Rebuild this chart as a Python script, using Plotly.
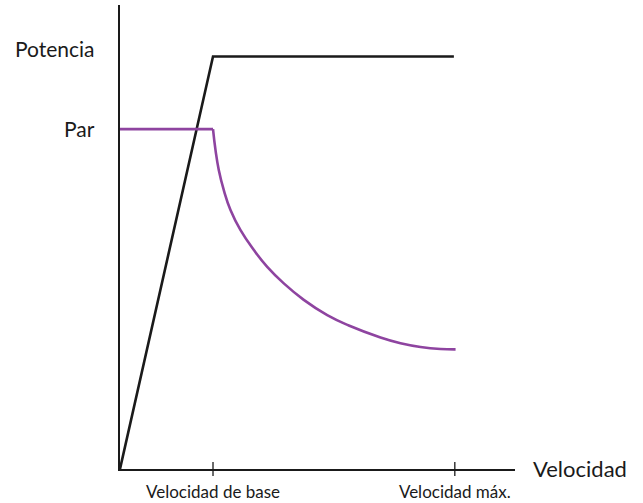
import plotly.graph_objects as go

# Speed in units of base speed; values in units of rated power
power_speed = [0.0, 1.0, 3.59]
power_value = [0.0, 1.0, 1.0]

torque_speed = [0.0, 1.0, 1.027, 1.062, 1.116, 1.188, 1.296, 1.439, 1.583, 1.761,
                1.976, 2.228, 2.460, 2.801, 3.016, 3.231, 3.446, 3.608]
torque_value = [0.824, 0.824, 0.773, 0.725, 0.676, 0.628, 0.579, 0.531, 0.490, 0.450,
                0.410, 0.373, 0.348, 0.319, 0.305, 0.296, 0.291, 0.290]

tick_vals = [1.0, 3.600]
tick_text = ["Velocidad de base", "Velocidad máx."]
y_labels = ["Potencia", "Par"]
y_label_vals = [1.0, 0.824]
x_title = "Velocidad"

FONT = "Lato"
INK = "#1a1a1a"
PURPLE = "#8e44a0"

fig = go.Figure()
fig.add_trace(go.Scatter(x=power_speed, y=power_value, mode="lines",
                         line=dict(color=INK, width=2.6), hoverinfo="skip"))
# constant-torque region (straight) and field-weakening region (smooth curve)
fig.add_trace(go.Scatter(x=torque_speed[:2], y=torque_value[:2], mode="lines",
                         line=dict(color=PURPLE, width=2.6), hoverinfo="skip"))
fig.add_trace(go.Scatter(x=torque_speed[1:], y=torque_value[1:], mode="lines",
                         line=dict(color=PURPLE, width=2.6, shape="spline", smoothing=1.3),
                         hoverinfo="skip"))

shapes = []
for v in tick_vals:
    shapes.append(dict(type="line", xref="x", yref="paper", x0=v, x1=v,
                       ysizemode="pixel", yanchor=0, y0=-7, y1=7,
                       line=dict(color=INK, width=1.3)))

annotations = []
offsets = [8, 1]
for lab, v, off in zip(y_labels, y_label_vals, offsets):
    annotations.append(dict(x=0, xref="paper", y=v, yref="y", text=lab,
                            showarrow=False, xanchor="right", yanchor="middle",
                            xshift=-23, yshift=off,
                            font=dict(family=FONT, size=21, color=INK)))
annotations.append(dict(x=1, xref="paper", y=0, yref="paper", text=x_title,
                        showarrow=False, xanchor="left", yanchor="middle",
                        xshift=16, yshift=1,
                        font=dict(family=FONT, size=22, color=INK)))

fig.update_layout(
    width=643, height=503,
    margin=dict(l=120, r=128, t=5, b=34),
    paper_bgcolor="white", plot_bgcolor="white",
    showlegend=False,
    shapes=shapes, annotations=annotations,
    xaxis=dict(range=[0, 4.247], showgrid=False, zeroline=False,
               showline=True, linecolor=INK, linewidth=1.5,
               tickvals=tick_vals, ticktext=tick_text, ticks="",
               tickfont=dict(family=FONT, size=17, color=INK),
               ticklabelstandoff=7, automargin=False),
    yaxis=dict(range=[0, 1.125], showgrid=False, zeroline=False,
               showline=True, linecolor=INK, linewidth=1.5,
               showticklabels=False, ticks="", automargin=False),
)

fig.write_html("out.html", config={"displayModeBar": False},
               post_script="document.body.style.margin='0px';document.body.style.padding='0px';")
